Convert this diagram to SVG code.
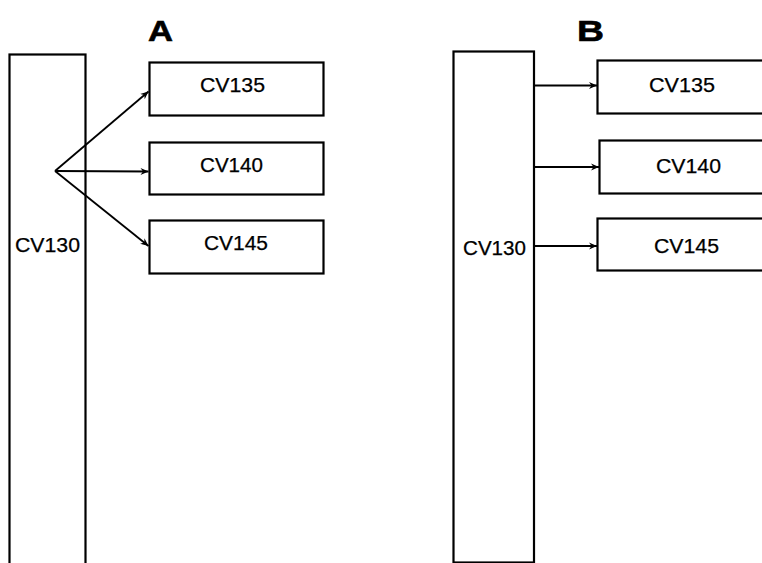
<svg xmlns="http://www.w3.org/2000/svg" width="762" height="563" viewBox="0 0 762 563">
<style>
.box{fill:#fff;stroke:#000;stroke-width:2.2}
.lbl{font-family:"Liberation Sans",Arial,sans-serif;font-size:20.5px;fill:#000;stroke:#000;stroke-width:0.25}
.ttl{font-family:"Liberation Sans",Arial,sans-serif;font-size:30px;font-weight:bold;fill:#000;stroke:#000;stroke-width:0.6}
.conn{stroke:#000;stroke-width:1.8;fill:none;marker-end:url(#ah)}
</style>
<defs>
<marker id="ah" markerUnits="userSpaceOnUse" markerWidth="9" markerHeight="9" viewBox="0 0 9 9" refX="8" refY="4.5" orient="auto">
<path d="M0,1 L8,4.5 L0,8 L2.5,4.5 Z" fill="#000"/>
</marker>
</defs>
<rect width="762" height="563" fill="#fff"/>
<text class="ttl" x="148" y="40.5" textLength="25" lengthAdjust="spacingAndGlyphs">A</text>
<text class="ttl" x="577" y="41" textLength="27" lengthAdjust="spacingAndGlyphs">B</text>
<g id="a-cv130">
<rect class="box" x="9.5" y="54.5" width="76" height="520"/>
<text class="lbl" x="15" y="252" textLength="65" lengthAdjust="spacingAndGlyphs">CV130</text>
</g>
<g id="a-cv135">
<rect class="box" x="149.5" y="62.5" width="174" height="53"/>
<text class="lbl" x="200" y="92" textLength="65" lengthAdjust="spacingAndGlyphs">CV135</text>
</g>
<g id="a-cv140">
<rect class="box" x="149.5" y="142.5" width="174" height="52"/>
<text class="lbl" x="200" y="172" textLength="63" lengthAdjust="spacingAndGlyphs">CV140</text>
</g>
<g id="a-cv145">
<rect class="box" x="149.5" y="220.5" width="174" height="53"/>
<text class="lbl" x="204" y="249.5" textLength="64" lengthAdjust="spacingAndGlyphs">CV145</text>
</g>
<g id="b-cv130">
<rect class="box" x="453.5" y="51.5" width="80.5" height="511"/>
<text class="lbl" x="463" y="255" textLength="63" lengthAdjust="spacingAndGlyphs">CV130</text>
</g>
<g id="b-cv135">
<rect class="box" x="597.5" y="60.5" width="170" height="53"/>
<text class="lbl" x="649" y="91.5" textLength="66" lengthAdjust="spacingAndGlyphs">CV135</text>
</g>
<g id="b-cv140">
<rect class="box" x="599.5" y="140.5" width="170" height="53"/>
<text class="lbl" x="656" y="172.5" textLength="65" lengthAdjust="spacingAndGlyphs">CV140</text>
</g>
<g id="b-cv145">
<rect class="box" x="597.5" y="218.5" width="170" height="52"/>
<text class="lbl" x="654" y="253" textLength="65" lengthAdjust="spacingAndGlyphs">CV145</text>
</g>
<g id="connectors">
<path class="conn" d="M55,171 L148.5,91.5"/>
<path class="conn" d="M55,171 L148.5,171.5"/>
<path class="conn" d="M55,171 L148.5,246"/>
<path class="conn" d="M534,85.5 L597,85.5"/>
<path class="conn" d="M534,167 L599,167"/>
<path class="conn" d="M534,246 L597,246"/>
</g>
</svg>
